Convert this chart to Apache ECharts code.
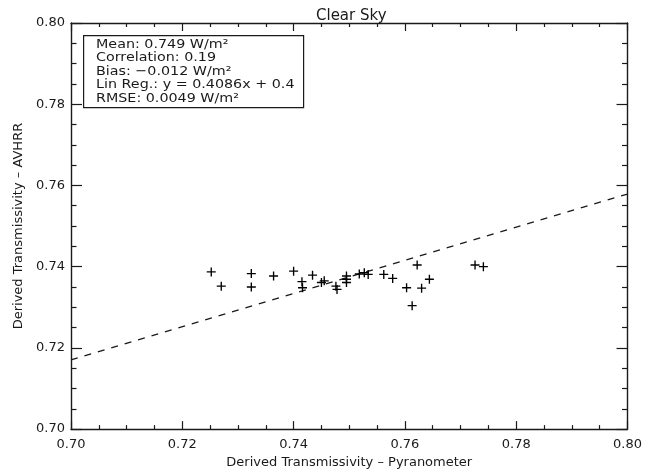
<!DOCTYPE html>
<html>
<head>
<meta charset="utf-8">
<script src="https://cdn.jsdelivr.net/npm/echarts@6/dist/echarts.min.js"></script>
<style>
  html, body { margin: 0; padding: 0; background: #fff; }
  #chart { width: 645px; height: 474px; }
</style>
</head>
<body>
<div id="chart"></div>
<script>
// Pyranometer-derived vs AVHRR-derived transmissivity, clear-sky cases
const pyranometer = [
  0.7252, 0.7270, 0.7324, 0.7324, 0.7364, 0.7400, 0.7415, 0.7416, 0.7434,
  0.7450, 0.7455, 0.7476, 0.7478, 0.7495, 0.7495, 0.7495, 0.7518, 0.7527,
  0.7534, 0.7562, 0.7578, 0.7622, 0.7644, 0.7603, 0.7630, 0.7613, 0.7726,
  0.7741
];
const avhrr = [
  0.7387, 0.7352, 0.7383, 0.7350, 0.7377, 0.7389, 0.7363, 0.7348, 0.7379,
  0.7361, 0.7365, 0.7352, 0.7344, 0.7377, 0.7369, 0.7361, 0.7382, 0.7385,
  0.7381, 0.7381, 0.7371, 0.7404, 0.7369, 0.7348, 0.7347, 0.7304, 0.7404,
  0.7400
];

// Linear fit y = slope * x + intercept
const slope = 0.4086;
const intercept = 0.431;

const axisMin = 0.70;
const axisMax = 0.80;
const tickStep = 0.02;

const statsLines = [
  'Mean: 0.749 W/m\u00B2',
  'Correlation: 0.19',
  'Bias: \u22120.012 W/m\u00B2',
  'Lin Reg.: y = 0.4086x + 0.4',
  'RMSE: 0.0049 W/m\u00B2'
];

const FONT = '"DejaVu Sans", sans-serif';
const INK = '#1a1a1a';

const points = pyranometer.map((x, i) => [x, avhrr[i]]);
const fitLine = [
  [axisMin, slope * axisMin + intercept],
  [axisMax, slope * axisMax + intercept]
];

const chart = echarts.init(document.getElementById('chart'), null, { renderer: 'canvas' });

function frameAxis(opts) {
  return Object.assign({
    type: 'value',
    min: axisMin,
    max: axisMax,
    interval: tickStep,
    axisLine: { show: true, onZero: false, lineStyle: { color: INK, width: 1.4 } },
    splitLine: { show: false },
    minorSplitLine: { show: false },
    axisLabel: { show: false }
  }, opts);
}

function ticks(major, minor) {
  return {
    axisTick: { show: true, inside: true, length: major, lineStyle: { color: INK, width: 1.2 } },
    minorTick: { show: true, splitNumber: 4, length: minor, lineStyle: { color: INK, width: 1.2 } }
  };
}

const tickLabel = {
  show: true,
  color: INK,
  fontFamily: FONT,
  fontSize: 13,
  formatter: v => v.toFixed(2)
};

const plus = 'path://M3.4,0H4.6V3.4H8V4.6H4.6V8H3.4V4.6H0V3.4H3.4Z';

chart.setOption({
  animation: false,
  backgroundColor: '#fff',
  title: {
    text: 'Clear Sky',
    left: 311,
    top: 4,
    textStyle: { fontFamily: FONT, fontSize: 15, fontWeight: 'normal', color: INK }
  },
  grid: { left: 71, right: 16, top: 23, bottom: 41, containLabel: false },
  xAxis: [
    frameAxis(Object.assign(ticks(8, 4), {
      position: 'bottom',
      axisLabel: Object.assign({}, tickLabel, { margin: 9 }),
      name: 'Derived Transmissivity \u2013 Pyranometer',
      nameLocation: 'middle',
      nameGap: 25,
      nameTextStyle: { fontFamily: FONT, fontSize: 13, color: INK }
    })),
    frameAxis(Object.assign(ticks(8, 4), { position: 'top' }))
  ],
  yAxis: [
    frameAxis(Object.assign(ticks(11, 5.5), {
      position: 'left',
      axisLabel: Object.assign({}, tickLabel, { margin: 6 }),
      name: 'Derived Transmissivity \u2013 AVHRR',
      nameLocation: 'middle',
      nameRotate: 90,
      nameGap: 45,
      nameTextStyle: { fontFamily: FONT, fontSize: 13, color: INK }
    })),
    frameAxis(Object.assign(ticks(11, 5.5), { position: 'right' }))
  ],
  series: [
    {
      name: 'Regression',
      type: 'line',
      xAxisIndex: 0,
      yAxisIndex: 0,
      data: fitLine,
      symbol: 'none',
      lineStyle: { color: INK, width: 1.3, type: [7, 7] },
      silent: true,
      z: 2
    },
    {
      name: 'Observations',
      type: 'scatter',
      xAxisIndex: 0,
      yAxisIndex: 0,
      data: points,
      symbol: plus,
      symbolSize: 9,
      itemStyle: { color: '#000', opacity: 1 },
      z: 3
    }
  ],
  graphic: [
    {
      type: 'rect',
      left: 83,
      top: 35,
      shape: { width: 220, height: 72 },
      style: { fill: '#fff', stroke: INK, lineWidth: 1.2 },
      z: 10
    },
    {
      type: 'text',
      left: 96,
      top: 38,
      scaleX: 1.1,
      style: {
        text: statsLines.join('\n'),
        fontFamily: FONT,
        fontSize: 13,
        lineHeight: 13.4,
        fill: INK
      },
      z: 11
    }
  ]
});
</script>
</body>
</html>
